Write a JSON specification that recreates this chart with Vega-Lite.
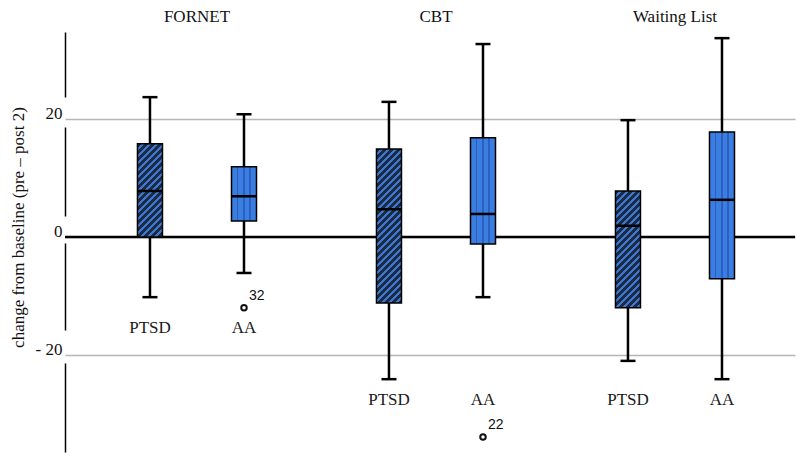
{
  "$schema": "https://vega.github.io/schema/vega-lite/v6.json",
  "width": 730,
  "height": 431,
  "autosize": "none",
  "padding": {"left": 65, "top": 28, "right": 5, "bottom": 0},
  "background": "white",
  "config": {"view": {"stroke": null}, "font": "Liberation Serif"},
  "datasets": {
    "boxes": [
      {"group": "FORNET", "measure": "PTSD", "lo": -10.2, "q1": 0, "median": 7.8, "q3": 15.8, "hi": 23.7},
      {"group": "FORNET", "measure": "AA", "lo": -6.1, "q1": 2.7, "median": 6.9, "q3": 11.9, "hi": 20.8},
      {"group": "CBT", "measure": "PTSD", "lo": -24.1, "q1": -11.2, "median": 4.7, "q3": 14.9, "hi": 22.9},
      {"group": "CBT", "measure": "AA", "lo": -10.2, "q1": -1.2, "median": 3.9, "q3": 16.8, "hi": 32.7},
      {"group": "Waiting List", "measure": "PTSD", "lo": -21.0, "q1": -12.0, "median": 1.9, "q3": 7.8, "hi": 19.8},
      {"group": "Waiting List", "measure": "AA", "lo": -24.1, "q1": -7.1, "median": 6.3, "q3": 17.8, "hi": 33.7}
    ],
    "outliers": [
      {"group": "FORNET", "measure": "AA", "value": -12.0, "id": "32"},
      {"group": "CBT", "measure": "AA", "value": -33.9, "id": "22"}
    ],
    "labels": [
      {"group": "FORNET", "measure": "PTSD", "at": -15.4},
      {"group": "FORNET", "measure": "AA", "at": -15.4},
      {"group": "CBT", "measure": "PTSD", "at": -27.6},
      {"group": "CBT", "measure": "AA", "at": -27.6},
      {"group": "Waiting List", "measure": "PTSD", "at": -27.6},
      {"group": "Waiting List", "measure": "AA", "at": -27.6}
    ],
    "zero": [{"v": 0}]
  },
  "layer": [
    {
      "data": {"name": "zero"},
      "mark": {"type": "rule", "color": "black", "strokeWidth": 2.5},
      "encoding": {
        "y": {
          "field": "v", "type": "quantitative",
          "scale": {"domain": [-37.63, 35.42], "nice": false, "zero": false},
          "axis": {
            "values": [20, 0, -20],
            "labelExpr": "datum.value < 0 ? '- ' + abs(datum.value) : datum.label",
            "grid": true, "gridColor": "#b5b5b5", "gridWidth": 1.5,
            "domain": true, "domainColor": "black", "domainWidth": 1.5,
            "domainDash": [0, 7, 89, 33, 87, 27, 89, 30, 65, 10],
            "ticks": false, "labelPadding": 3,
            "labelFont": "Liberation Serif", "labelFontSize": 17, "labelColor": "#111",
            "labelBaseline": "alphabetic",
            "title": "change from baseline (pre – post 2)",
            "titleFont": "Liberation Serif", "titleFontSize": 17, "titleFontWeight": "normal", "titleColor": "#111",
            "titleX": -47, "titleY": 199, "titleAlign": "center", "titleBaseline": "middle"
          }
        }
      }
    },
    {
      "data": {"name": "boxes"},
      "mark": {"type": "rule", "color": "black", "strokeWidth": 2.5},
      "encoding": {
        "x": {
          "field": "group", "type": "nominal",
          "scale": {"domain": ["FORNET", "CBT", "Waiting List"], "paddingInner": 0, "paddingOuter": 0.0272, "align": 0.96},
          "axis": {"orient": "top", "title": null, "domain": false, "ticks": false, "labelAngle": 0,
                   "labelFont": "Liberation Serif", "labelFontSize": 17, "labelColor": "#111",
                   "labelPadding": 7, "labelBaseline": "alphabetic"}
        },
        "xOffset": {"field": "measure", "type": "nominal", "scale": {"domain": ["PTSD", "AA"], "paddingInner": 0.734, "paddingOuter": 0.638}},
        "y": {"field": "lo", "type": "quantitative"},
        "y2": {"field": "hi"}
      }
    },
    {
      "data": {"name": "boxes"},
      "transform": [{"filter": "datum.measure == 'AA'"}],
      "mark": {"type": "bar", "stroke": "black", "strokeWidth": 1.5,
        "fill": {"gradient": "linear", "x1": 0, "y1": 0, "x2": 1, "y2": 0, "stops": [
          {"offset": 0, "color": "#3a7ee2"}, {"offset": 0.23, "color": "#3a7ee2"}, {"offset": 0.23, "color": "#2c5fc0"}, {"offset": 0.28, "color": "#2c5fc0"},
          {"offset": 0.28, "color": "#3a7ee2"}, {"offset": 0.48, "color": "#3a7ee2"}, {"offset": 0.48, "color": "#2c5fc0"}, {"offset": 0.53, "color": "#2c5fc0"},
          {"offset": 0.53, "color": "#3a7ee2"}, {"offset": 0.72, "color": "#3a7ee2"}, {"offset": 0.72, "color": "#2c5fc0"}, {"offset": 0.77, "color": "#2c5fc0"},
          {"offset": 0.77, "color": "#3a7ee2"}, {"offset": 1, "color": "#3a7ee2"}
        ]}},
      "encoding": {
        "x": {"field": "group", "type": "nominal"},
        "xOffset": {"field": "measure", "type": "nominal"},
        "y": {"field": "q1", "type": "quantitative"},
        "y2": {"field": "q3"}
      }
    },
    {
      "data": {"name": "boxes"},
      "transform": [{"filter": "datum.measure == 'PTSD' && datum.group == 'FORNET'"}],
      "mark": {"type": "bar", "stroke": "black", "strokeWidth": 1.5,
        "fill": {"gradient": "linear", "x1": 0, "y1": 0, "x2": 0.4906, "y2": 1.8251, "stops": [
{"offset":0,"color":"#1c2a47"},{"offset":0.0212,"color":"#1c2a47"},{"offset":0.0212,"color":"#3c78cc"},{"offset":0.0385,"color":"#3c78cc"},
{"offset":0.0385,"color":"#1c2a47"},{"offset":0.0596,"color":"#1c2a47"},{"offset":0.0596,"color":"#3c78cc"},{"offset":0.0769,"color":"#3c78cc"},
{"offset":0.0769,"color":"#1c2a47"},{"offset":0.0981,"color":"#1c2a47"},{"offset":0.0981,"color":"#3c78cc"},{"offset":0.1154,"color":"#3c78cc"},
{"offset":0.1154,"color":"#1c2a47"},{"offset":0.1365,"color":"#1c2a47"},{"offset":0.1365,"color":"#3c78cc"},{"offset":0.1538,"color":"#3c78cc"},
{"offset":0.1538,"color":"#1c2a47"},{"offset":0.175,"color":"#1c2a47"},{"offset":0.175,"color":"#3c78cc"},{"offset":0.1923,"color":"#3c78cc"},
{"offset":0.1923,"color":"#1c2a47"},{"offset":0.2135,"color":"#1c2a47"},{"offset":0.2135,"color":"#3c78cc"},{"offset":0.2308,"color":"#3c78cc"},
{"offset":0.2308,"color":"#1c2a47"},{"offset":0.2519,"color":"#1c2a47"},{"offset":0.2519,"color":"#3c78cc"},{"offset":0.2692,"color":"#3c78cc"},
{"offset":0.2692,"color":"#1c2a47"},{"offset":0.2904,"color":"#1c2a47"},{"offset":0.2904,"color":"#3c78cc"},{"offset":0.3077,"color":"#3c78cc"},
{"offset":0.3077,"color":"#1c2a47"},{"offset":0.3288,"color":"#1c2a47"},{"offset":0.3288,"color":"#3c78cc"},{"offset":0.3462,"color":"#3c78cc"},
{"offset":0.3462,"color":"#1c2a47"},{"offset":0.3673,"color":"#1c2a47"},{"offset":0.3673,"color":"#3c78cc"},{"offset":0.3846,"color":"#3c78cc"},
{"offset":0.3846,"color":"#1c2a47"},{"offset":0.4058,"color":"#1c2a47"},{"offset":0.4058,"color":"#3c78cc"},{"offset":0.4231,"color":"#3c78cc"},
{"offset":0.4231,"color":"#1c2a47"},{"offset":0.4442,"color":"#1c2a47"},{"offset":0.4442,"color":"#3c78cc"},{"offset":0.4615,"color":"#3c78cc"},
{"offset":0.4615,"color":"#1c2a47"},{"offset":0.4827,"color":"#1c2a47"},{"offset":0.4827,"color":"#3c78cc"},{"offset":0.5,"color":"#3c78cc"},
{"offset":0.5,"color":"#1c2a47"},{"offset":0.5212,"color":"#1c2a47"},{"offset":0.5212,"color":"#3c78cc"},{"offset":0.5385,"color":"#3c78cc"},
{"offset":0.5385,"color":"#1c2a47"},{"offset":0.5596,"color":"#1c2a47"},{"offset":0.5596,"color":"#3c78cc"},{"offset":0.5769,"color":"#3c78cc"},
{"offset":0.5769,"color":"#1c2a47"},{"offset":0.5981,"color":"#1c2a47"},{"offset":0.5981,"color":"#3c78cc"},{"offset":0.6154,"color":"#3c78cc"},
{"offset":0.6154,"color":"#1c2a47"},{"offset":0.6365,"color":"#1c2a47"},{"offset":0.6365,"color":"#3c78cc"},{"offset":0.6538,"color":"#3c78cc"},
{"offset":0.6538,"color":"#1c2a47"},{"offset":0.675,"color":"#1c2a47"},{"offset":0.675,"color":"#3c78cc"},{"offset":0.6923,"color":"#3c78cc"},
{"offset":0.6923,"color":"#1c2a47"},{"offset":0.7135,"color":"#1c2a47"},{"offset":0.7135,"color":"#3c78cc"},{"offset":0.7308,"color":"#3c78cc"},
{"offset":0.7308,"color":"#1c2a47"},{"offset":0.7519,"color":"#1c2a47"},{"offset":0.7519,"color":"#3c78cc"},{"offset":0.7692,"color":"#3c78cc"},
{"offset":0.7692,"color":"#1c2a47"},{"offset":0.7904,"color":"#1c2a47"},{"offset":0.7904,"color":"#3c78cc"},{"offset":0.8077,"color":"#3c78cc"},
{"offset":0.8077,"color":"#1c2a47"},{"offset":0.8288,"color":"#1c2a47"},{"offset":0.8288,"color":"#3c78cc"},{"offset":0.8462,"color":"#3c78cc"},
{"offset":0.8462,"color":"#1c2a47"},{"offset":0.8673,"color":"#1c2a47"},{"offset":0.8673,"color":"#3c78cc"},{"offset":0.8846,"color":"#3c78cc"},
{"offset":0.8846,"color":"#1c2a47"},{"offset":0.9058,"color":"#1c2a47"},{"offset":0.9058,"color":"#3c78cc"},{"offset":0.9231,"color":"#3c78cc"},
{"offset":0.9231,"color":"#1c2a47"},{"offset":0.9442,"color":"#1c2a47"},{"offset":0.9442,"color":"#3c78cc"},{"offset":0.9615,"color":"#3c78cc"},
{"offset":0.9615,"color":"#1c2a47"},{"offset":0.9827,"color":"#1c2a47"},{"offset":0.9827,"color":"#3c78cc"},{"offset":1,"color":"#3c78cc"}
        ]}},
      "encoding": {
        "x": {"field": "group", "type": "nominal"},
        "xOffset": {"field": "measure", "type": "nominal"},
        "y": {"field": "q1", "type": "quantitative"},
        "y2": {"field": "q3"}
      }
    },
    {
      "data": {"name": "boxes"},
      "transform": [{"filter": "datum.measure == 'PTSD' && datum.group == 'CBT'"}],
      "mark": {"type": "bar", "stroke": "black", "strokeWidth": 1.5,
        "fill": {"gradient": "linear", "x1": 0, "y1": 0, "x2": 0.1869, "y2": 1.1515, "stops": [
{"offset":0,"color":"#1c2a47"},{"offset":0.0212,"color":"#1c2a47"},{"offset":0.0212,"color":"#3c78cc"},{"offset":0.0385,"color":"#3c78cc"},
{"offset":0.0385,"color":"#1c2a47"},{"offset":0.0596,"color":"#1c2a47"},{"offset":0.0596,"color":"#3c78cc"},{"offset":0.0769,"color":"#3c78cc"},
{"offset":0.0769,"color":"#1c2a47"},{"offset":0.0981,"color":"#1c2a47"},{"offset":0.0981,"color":"#3c78cc"},{"offset":0.1154,"color":"#3c78cc"},
{"offset":0.1154,"color":"#1c2a47"},{"offset":0.1365,"color":"#1c2a47"},{"offset":0.1365,"color":"#3c78cc"},{"offset":0.1538,"color":"#3c78cc"},
{"offset":0.1538,"color":"#1c2a47"},{"offset":0.175,"color":"#1c2a47"},{"offset":0.175,"color":"#3c78cc"},{"offset":0.1923,"color":"#3c78cc"},
{"offset":0.1923,"color":"#1c2a47"},{"offset":0.2135,"color":"#1c2a47"},{"offset":0.2135,"color":"#3c78cc"},{"offset":0.2308,"color":"#3c78cc"},
{"offset":0.2308,"color":"#1c2a47"},{"offset":0.2519,"color":"#1c2a47"},{"offset":0.2519,"color":"#3c78cc"},{"offset":0.2692,"color":"#3c78cc"},
{"offset":0.2692,"color":"#1c2a47"},{"offset":0.2904,"color":"#1c2a47"},{"offset":0.2904,"color":"#3c78cc"},{"offset":0.3077,"color":"#3c78cc"},
{"offset":0.3077,"color":"#1c2a47"},{"offset":0.3288,"color":"#1c2a47"},{"offset":0.3288,"color":"#3c78cc"},{"offset":0.3462,"color":"#3c78cc"},
{"offset":0.3462,"color":"#1c2a47"},{"offset":0.3673,"color":"#1c2a47"},{"offset":0.3673,"color":"#3c78cc"},{"offset":0.3846,"color":"#3c78cc"},
{"offset":0.3846,"color":"#1c2a47"},{"offset":0.4058,"color":"#1c2a47"},{"offset":0.4058,"color":"#3c78cc"},{"offset":0.4231,"color":"#3c78cc"},
{"offset":0.4231,"color":"#1c2a47"},{"offset":0.4442,"color":"#1c2a47"},{"offset":0.4442,"color":"#3c78cc"},{"offset":0.4615,"color":"#3c78cc"},
{"offset":0.4615,"color":"#1c2a47"},{"offset":0.4827,"color":"#1c2a47"},{"offset":0.4827,"color":"#3c78cc"},{"offset":0.5,"color":"#3c78cc"},
{"offset":0.5,"color":"#1c2a47"},{"offset":0.5212,"color":"#1c2a47"},{"offset":0.5212,"color":"#3c78cc"},{"offset":0.5385,"color":"#3c78cc"},
{"offset":0.5385,"color":"#1c2a47"},{"offset":0.5596,"color":"#1c2a47"},{"offset":0.5596,"color":"#3c78cc"},{"offset":0.5769,"color":"#3c78cc"},
{"offset":0.5769,"color":"#1c2a47"},{"offset":0.5981,"color":"#1c2a47"},{"offset":0.5981,"color":"#3c78cc"},{"offset":0.6154,"color":"#3c78cc"},
{"offset":0.6154,"color":"#1c2a47"},{"offset":0.6365,"color":"#1c2a47"},{"offset":0.6365,"color":"#3c78cc"},{"offset":0.6538,"color":"#3c78cc"},
{"offset":0.6538,"color":"#1c2a47"},{"offset":0.675,"color":"#1c2a47"},{"offset":0.675,"color":"#3c78cc"},{"offset":0.6923,"color":"#3c78cc"},
{"offset":0.6923,"color":"#1c2a47"},{"offset":0.7135,"color":"#1c2a47"},{"offset":0.7135,"color":"#3c78cc"},{"offset":0.7308,"color":"#3c78cc"},
{"offset":0.7308,"color":"#1c2a47"},{"offset":0.7519,"color":"#1c2a47"},{"offset":0.7519,"color":"#3c78cc"},{"offset":0.7692,"color":"#3c78cc"},
{"offset":0.7692,"color":"#1c2a47"},{"offset":0.7904,"color":"#1c2a47"},{"offset":0.7904,"color":"#3c78cc"},{"offset":0.8077,"color":"#3c78cc"},
{"offset":0.8077,"color":"#1c2a47"},{"offset":0.8288,"color":"#1c2a47"},{"offset":0.8288,"color":"#3c78cc"},{"offset":0.8462,"color":"#3c78cc"},
{"offset":0.8462,"color":"#1c2a47"},{"offset":0.8673,"color":"#1c2a47"},{"offset":0.8673,"color":"#3c78cc"},{"offset":0.8846,"color":"#3c78cc"},
{"offset":0.8846,"color":"#1c2a47"},{"offset":0.9058,"color":"#1c2a47"},{"offset":0.9058,"color":"#3c78cc"},{"offset":0.9231,"color":"#3c78cc"},
{"offset":0.9231,"color":"#1c2a47"},{"offset":0.9442,"color":"#1c2a47"},{"offset":0.9442,"color":"#3c78cc"},{"offset":0.9615,"color":"#3c78cc"},
{"offset":0.9615,"color":"#1c2a47"},{"offset":0.9827,"color":"#1c2a47"},{"offset":0.9827,"color":"#3c78cc"},{"offset":1,"color":"#3c78cc"}
        ]}},
      "encoding": {
        "x": {"field": "group", "type": "nominal"},
        "xOffset": {"field": "measure", "type": "nominal"},
        "y": {"field": "q1", "type": "quantitative"},
        "y2": {"field": "q3"}
      }
    },
    {
      "data": {"name": "boxes"},
      "transform": [{"filter": "datum.measure == 'PTSD' && datum.group == 'Waiting List'"}],
      "mark": {"type": "bar", "stroke": "black", "strokeWidth": 1.5,
        "fill": {"gradient": "linear", "x1": 0, "y1": 0, "x2": 0.3179, "y2": 1.4876, "stops": [
{"offset":0,"color":"#1c2a47"},{"offset":0.0212,"color":"#1c2a47"},{"offset":0.0212,"color":"#3c78cc"},{"offset":0.0385,"color":"#3c78cc"},
{"offset":0.0385,"color":"#1c2a47"},{"offset":0.0596,"color":"#1c2a47"},{"offset":0.0596,"color":"#3c78cc"},{"offset":0.0769,"color":"#3c78cc"},
{"offset":0.0769,"color":"#1c2a47"},{"offset":0.0981,"color":"#1c2a47"},{"offset":0.0981,"color":"#3c78cc"},{"offset":0.1154,"color":"#3c78cc"},
{"offset":0.1154,"color":"#1c2a47"},{"offset":0.1365,"color":"#1c2a47"},{"offset":0.1365,"color":"#3c78cc"},{"offset":0.1538,"color":"#3c78cc"},
{"offset":0.1538,"color":"#1c2a47"},{"offset":0.175,"color":"#1c2a47"},{"offset":0.175,"color":"#3c78cc"},{"offset":0.1923,"color":"#3c78cc"},
{"offset":0.1923,"color":"#1c2a47"},{"offset":0.2135,"color":"#1c2a47"},{"offset":0.2135,"color":"#3c78cc"},{"offset":0.2308,"color":"#3c78cc"},
{"offset":0.2308,"color":"#1c2a47"},{"offset":0.2519,"color":"#1c2a47"},{"offset":0.2519,"color":"#3c78cc"},{"offset":0.2692,"color":"#3c78cc"},
{"offset":0.2692,"color":"#1c2a47"},{"offset":0.2904,"color":"#1c2a47"},{"offset":0.2904,"color":"#3c78cc"},{"offset":0.3077,"color":"#3c78cc"},
{"offset":0.3077,"color":"#1c2a47"},{"offset":0.3288,"color":"#1c2a47"},{"offset":0.3288,"color":"#3c78cc"},{"offset":0.3462,"color":"#3c78cc"},
{"offset":0.3462,"color":"#1c2a47"},{"offset":0.3673,"color":"#1c2a47"},{"offset":0.3673,"color":"#3c78cc"},{"offset":0.3846,"color":"#3c78cc"},
{"offset":0.3846,"color":"#1c2a47"},{"offset":0.4058,"color":"#1c2a47"},{"offset":0.4058,"color":"#3c78cc"},{"offset":0.4231,"color":"#3c78cc"},
{"offset":0.4231,"color":"#1c2a47"},{"offset":0.4442,"color":"#1c2a47"},{"offset":0.4442,"color":"#3c78cc"},{"offset":0.4615,"color":"#3c78cc"},
{"offset":0.4615,"color":"#1c2a47"},{"offset":0.4827,"color":"#1c2a47"},{"offset":0.4827,"color":"#3c78cc"},{"offset":0.5,"color":"#3c78cc"},
{"offset":0.5,"color":"#1c2a47"},{"offset":0.5212,"color":"#1c2a47"},{"offset":0.5212,"color":"#3c78cc"},{"offset":0.5385,"color":"#3c78cc"},
{"offset":0.5385,"color":"#1c2a47"},{"offset":0.5596,"color":"#1c2a47"},{"offset":0.5596,"color":"#3c78cc"},{"offset":0.5769,"color":"#3c78cc"},
{"offset":0.5769,"color":"#1c2a47"},{"offset":0.5981,"color":"#1c2a47"},{"offset":0.5981,"color":"#3c78cc"},{"offset":0.6154,"color":"#3c78cc"},
{"offset":0.6154,"color":"#1c2a47"},{"offset":0.6365,"color":"#1c2a47"},{"offset":0.6365,"color":"#3c78cc"},{"offset":0.6538,"color":"#3c78cc"},
{"offset":0.6538,"color":"#1c2a47"},{"offset":0.675,"color":"#1c2a47"},{"offset":0.675,"color":"#3c78cc"},{"offset":0.6923,"color":"#3c78cc"},
{"offset":0.6923,"color":"#1c2a47"},{"offset":0.7135,"color":"#1c2a47"},{"offset":0.7135,"color":"#3c78cc"},{"offset":0.7308,"color":"#3c78cc"},
{"offset":0.7308,"color":"#1c2a47"},{"offset":0.7519,"color":"#1c2a47"},{"offset":0.7519,"color":"#3c78cc"},{"offset":0.7692,"color":"#3c78cc"},
{"offset":0.7692,"color":"#1c2a47"},{"offset":0.7904,"color":"#1c2a47"},{"offset":0.7904,"color":"#3c78cc"},{"offset":0.8077,"color":"#3c78cc"},
{"offset":0.8077,"color":"#1c2a47"},{"offset":0.8288,"color":"#1c2a47"},{"offset":0.8288,"color":"#3c78cc"},{"offset":0.8462,"color":"#3c78cc"},
{"offset":0.8462,"color":"#1c2a47"},{"offset":0.8673,"color":"#1c2a47"},{"offset":0.8673,"color":"#3c78cc"},{"offset":0.8846,"color":"#3c78cc"},
{"offset":0.8846,"color":"#1c2a47"},{"offset":0.9058,"color":"#1c2a47"},{"offset":0.9058,"color":"#3c78cc"},{"offset":0.9231,"color":"#3c78cc"},
{"offset":0.9231,"color":"#1c2a47"},{"offset":0.9442,"color":"#1c2a47"},{"offset":0.9442,"color":"#3c78cc"},{"offset":0.9615,"color":"#3c78cc"},
{"offset":0.9615,"color":"#1c2a47"},{"offset":0.9827,"color":"#1c2a47"},{"offset":0.9827,"color":"#3c78cc"},{"offset":1,"color":"#3c78cc"}
        ]}},
      "encoding": {
        "x": {"field": "group", "type": "nominal"},
        "xOffset": {"field": "measure", "type": "nominal"},
        "y": {"field": "q1", "type": "quantitative"},
        "y2": {"field": "q3"}
      }
    },
    {
      "data": {"name": "boxes"},
      "mark": {"type": "tick", "color": "black", "size": 25, "thickness": 2.5, "opacity": 1},
      "encoding": {
        "x": {"field": "group", "type": "nominal"},
        "xOffset": {"field": "measure", "type": "nominal"},
        "y": {"field": "median", "type": "quantitative"}
      }
    },
    {
      "data": {"name": "boxes"},
      "mark": {"type": "tick", "color": "black", "size": 15, "thickness": 2.5, "opacity": 1},
      "encoding": {
        "x": {"field": "group", "type": "nominal"},
        "xOffset": {"field": "measure", "type": "nominal"},
        "y": {"field": "lo", "type": "quantitative"}
      }
    },
    {
      "data": {"name": "boxes"},
      "mark": {"type": "tick", "color": "black", "size": 15, "thickness": 2.5, "opacity": 1},
      "encoding": {
        "x": {"field": "group", "type": "nominal"},
        "xOffset": {"field": "measure", "type": "nominal"},
        "y": {"field": "hi", "type": "quantitative"}
      }
    },
    {
      "data": {"name": "outliers"},
      "mark": {"type": "point", "shape": "circle", "filled": false, "stroke": "#111", "strokeWidth": 2, "size": 30, "opacity": 1},
      "encoding": {
        "x": {"field": "group", "type": "nominal"},
        "xOffset": {"field": "measure", "type": "nominal"},
        "y": {"field": "value", "type": "quantitative"}
      }
    },
    {
      "data": {"name": "outliers"},
      "mark": {"type": "text", "font": "Liberation Sans", "fontSize": 14, "color": "#111", "align": "left", "baseline": "middle", "dx": 5, "dy": -12},
      "encoding": {
        "x": {"field": "group", "type": "nominal"},
        "xOffset": {"field": "measure", "type": "nominal"},
        "y": {"field": "value", "type": "quantitative"},
        "text": {"field": "id"}
      }
    },
    {
      "data": {"name": "labels"},
      "mark": {"type": "text", "font": "Liberation Serif", "fontSize": 17, "color": "#1a1a1a", "align": "center", "baseline": "middle"},
      "encoding": {
        "x": {"field": "group", "type": "nominal"},
        "xOffset": {"field": "measure", "type": "nominal"},
        "y": {"field": "at", "type": "quantitative"},
        "text": {"field": "measure"}
      }
    }
  ]
}
